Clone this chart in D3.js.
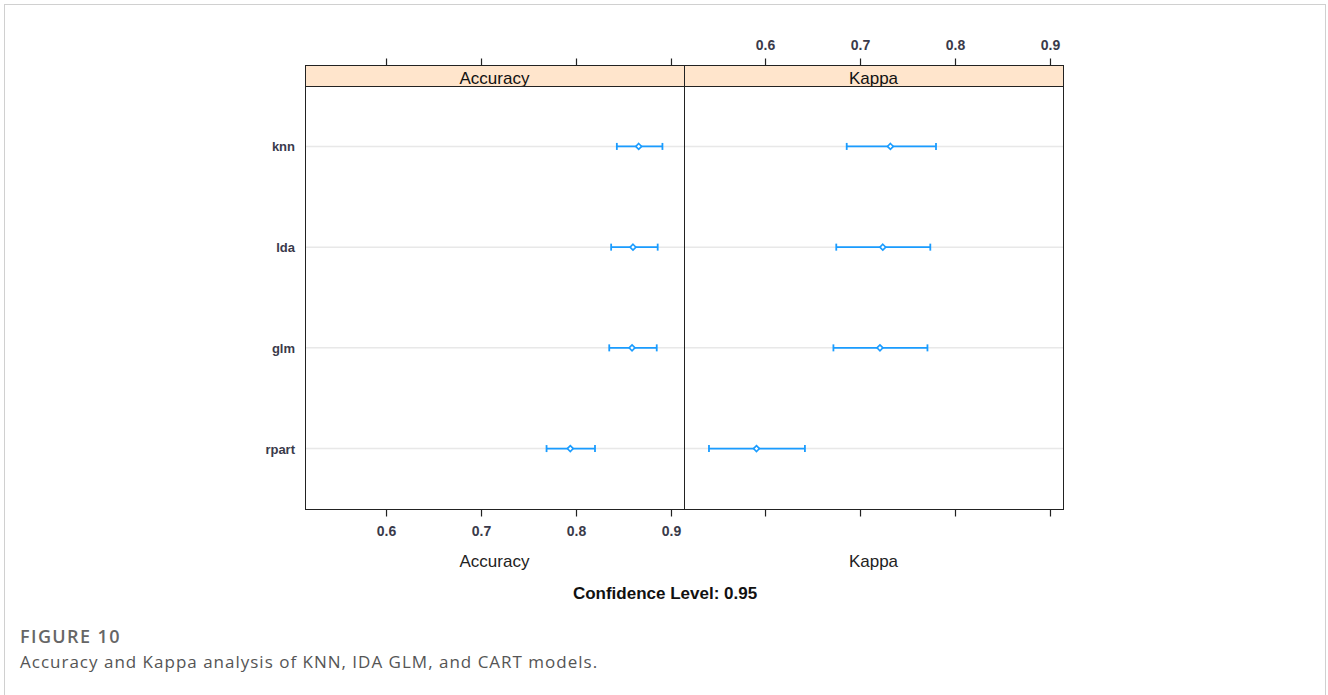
<!DOCTYPE html>
<html>
<head>
<meta charset="utf-8">
<script src="https://cdn.jsdelivr.net/npm/d3@7"></script>
<style>
  body { margin: 0; background: #fff; }
  svg { display: block; }
</style>
</head>
<body>
<div id="chart"></div>
<script>
// data
const models = ["knn", "lda", "glm", "rpart"];
const accuracyLower = [0.843, 0.837, 0.835, 0.769];
const accuracyMean = [0.866, 0.860, 0.859, 0.794];
const accuracyUpper = [0.891, 0.886, 0.885, 0.820];
const kappaLower = [0.686, 0.675, 0.672, 0.541];
const kappaMean = [0.732, 0.724, 0.721, 0.591];
const kappaUpper = [0.780, 0.774, 0.771, 0.642];
const xTicks = [0.6, 0.7, 0.8, 0.9];
const panelNames = ["Accuracy", "Kappa"];

const width = 1328, height = 695;
const panelTop = 86, panelBottom = 509, stripTop = 65;
const panelLeft = [305, 684], panelRight = [684, 1063];
const blue = "#1a9cff";
const font = "Liberation Sans, Arial, sans-serif";

const svg = d3.select("#chart").append("svg")
  .attr("width", width)
  .attr("height", height);

// card border
svg.append("rect")
  .attr("x", 4.5).attr("y", 4.5)
  .attr("width", 1321).attr("height", 720)
  .attr("fill", "none")
  .attr("stroke", "#d0d0d0");

const y = d3.scalePoint()
  .domain(models)
  .range([panelTop, panelBottom])
  .padding(0.6);

const panels = [
  { name: panelNames[0], lo: accuracyLower, mid: accuracyMean, hi: accuracyUpper, topLabels: false },
  { name: panelNames[1], lo: kappaLower, mid: kappaMean, hi: kappaUpper, topLabels: true }
];

panels.forEach((p, i) => {
  const x = d3.scaleLinear().domain([0.5147, 0.9137]).range([panelLeft[i], panelRight[i]]);
  const g = svg.append("g");

  // reference lines
  g.selectAll("line.ref")
    .data(models)
    .enter().append("line")
    .attr("x1", panelLeft[i]).attr("x2", panelRight[i])
    .attr("y1", d => y(d)).attr("y2", d => y(d))
    .attr("stroke", "#e8e8e8")
    .attr("stroke-width", 1.5);

  // strip
  g.append("rect")
    .attr("x", panelLeft[i] + 0.5).attr("y", stripTop + 0.5)
    .attr("width", panelRight[i] - panelLeft[i]).attr("height", panelTop - stripTop)
    .attr("fill", "#ffe5cc")
    .attr("stroke", "#222");
  g.append("text")
    .attr("x", (panelLeft[i] + panelRight[i]) / 2)
    .attr("y", panelTop - 2)
    .attr("text-anchor", "middle")
    .style("font-family", font)
    .style("font-size", "17px")
    .attr("fill", "#111")
    .text(p.name);

  // panel box
  g.append("rect")
    .attr("x", panelLeft[i] + 0.5).attr("y", panelTop + 0.5)
    .attr("width", panelRight[i] - panelLeft[i]).attr("height", panelBottom - panelTop)
    .attr("fill", "none")
    .attr("stroke", "#222");

  // top axis
  const top = g.append("g")
    .attr("transform", "translate(0," + (stripTop + 0.5) + ")")
    .call(d3.axisTop(x).tickValues(xTicks).tickSize(7).tickFormat(p.topLabels ? d3.format(".1f") : ""));
  // bottom axis
  const bot = g.append("g")
    .attr("transform", "translate(0," + (panelBottom + 0.5) + ")")
    .call(d3.axisBottom(x).tickValues(xTicks).tickSize(7).tickFormat(p.topLabels ? "" : d3.format(".1f")));
  [top, bot].forEach(a => {
    a.select(".domain").remove();
    a.selectAll(".tick line").attr("stroke", "#222").attr("stroke-width", 1.2);
    a.selectAll(".tick text")
      .style("font-family", font)
      .style("font-size", "14px")
      .style("font-weight", "bold")
      .attr("fill", "#3a3a4a");
  });
  top.selectAll(".tick text").attr("dy", "-0.4em");
  bot.selectAll(".tick text").attr("dy", "1.18em");

  // intervals
  const rows = models.map((m, k) => ({ m: m, lo: p.lo[k], mid: p.mid[k], hi: p.hi[k] }));
  const ci = g.selectAll("g.ci").data(rows).enter().append("g");
  ci.append("line")
    .attr("x1", d => x(d.lo)).attr("x2", d => x(d.hi))
    .attr("y1", d => y(d.m)).attr("y2", d => y(d.m))
    .attr("stroke", blue).attr("stroke-width", 1.8);
  ci.append("line")
    .attr("x1", d => x(d.lo)).attr("x2", d => x(d.lo))
    .attr("y1", d => y(d.m) - 3.5).attr("y2", d => y(d.m) + 3.5)
    .attr("stroke", blue).attr("stroke-width", 1.8);
  ci.append("line")
    .attr("x1", d => x(d.hi)).attr("x2", d => x(d.hi))
    .attr("y1", d => y(d.m) - 3.5).attr("y2", d => y(d.m) + 3.5)
    .attr("stroke", blue).attr("stroke-width", 1.8);
  ci.append("path")
    .attr("d", d3.symbol(d3.symbolDiamond2, 22))
    .attr("transform", d => "translate(" + x(d.mid) + "," + y(d.m) + ")")
    .attr("fill", "#fff")
    .attr("stroke", blue).attr("stroke-width", 1.6);

  // x label
  svg.append("text")
    .attr("x", (panelLeft[i] + panelRight[i]) / 2)
    .attr("y", 567)
    .attr("text-anchor", "middle")
    .style("font-family", font)
    .style("font-size", "17px")
    .attr("fill", "#222")
    .text(p.name);
});

// row labels
svg.selectAll("text.row")
  .data(models)
  .enter().append("text")
  .attr("x", 295)
  .attr("y", d => y(d) + 5)
  .attr("text-anchor", "end")
  .style("font-family", font)
  .style("font-size", "13px")
  .style("font-weight", "bold")
  .attr("fill", "#3a3a4a")
  .text(d => d);

svg.append("text")
  .attr("x", 665)
  .attr("y", 599)
  .attr("text-anchor", "middle")
  .style("font-family", font)
  .style("font-size", "17px")
  .style("font-weight", "bold")
  .attr("fill", "#111")
  .text("Confidence Level: 0.95");

// caption
svg.append("text")
  .attr("x", 20).attr("y", 643)
  .style("font-family", "Open Sans, Noto Sans, sans-serif")
  .style("font-size", "18px")
  .style("font-weight", "600")
  .style("letter-spacing", "1.4px")
  .attr("fill", "#666")
  .text("FIGURE 10");
svg.append("text")
  .attr("x", 20).attr("y", 668)
  .style("font-family", "Open Sans, Noto Sans, sans-serif")
  .style("font-size", "17px")
  .style("letter-spacing", "1px")
  .attr("fill", "#555")
  .text("Accuracy and Kappa analysis of KNN, IDA GLM, and CART models.");
</script>
</body>
</html>
